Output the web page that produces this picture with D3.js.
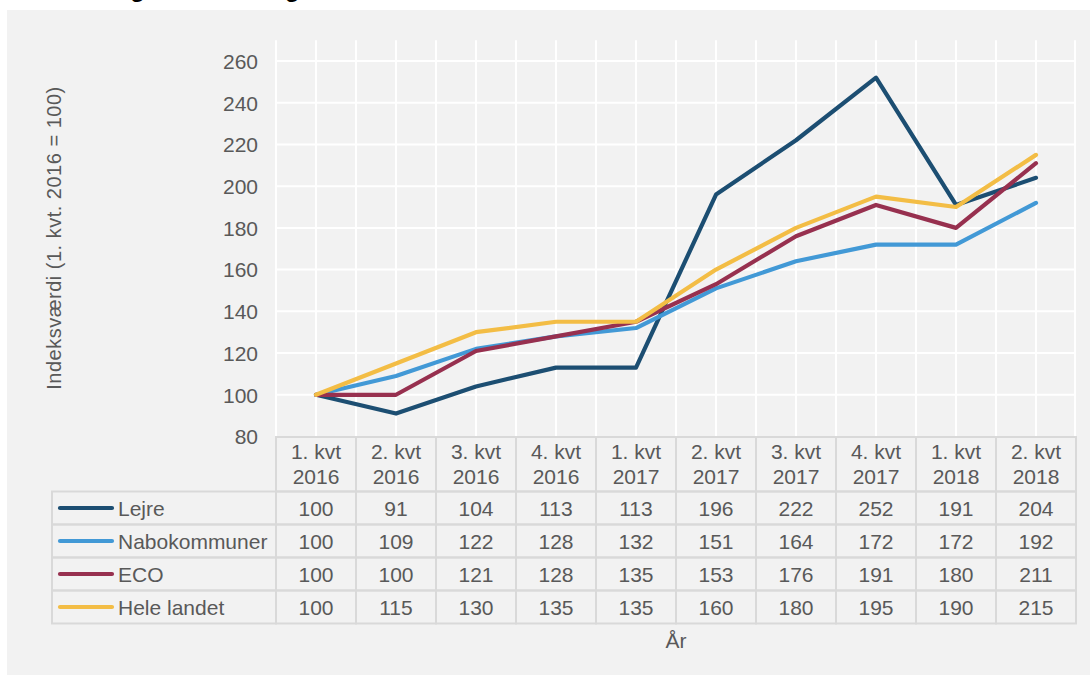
<!DOCTYPE html>
<html>
<head>
<meta charset="utf-8">
<script src="https://cdn.jsdelivr.net/npm/d3@7"></script>
<style>
  html, body { margin: 0; padding: 0; background: #ffffff; }
  svg { display: block; font-family: "Liberation Sans", Arial, sans-serif; }
</style>
</head>
<body>
<svg id="chart" width="1090" height="675"></svg>
<script>
const quarters = ["1. kvt", "2. kvt", "3. kvt", "4. kvt", "1. kvt", "2. kvt", "3. kvt", "4. kvt", "1. kvt", "2. kvt"];
const years = ["2016", "2016", "2016", "2016", "2017", "2017", "2017", "2017", "2018", "2018"];
const seriesNames = ["Lejre", "Nabokommuner", "ECO", "Hele landet"];
const lejre = [100, 91, 104, 113, 113, 196, 222, 252, 191, 204];
const nabokommuner = [100, 109, 122, 128, 132, 151, 164, 172, 172, 192];
const eco = [100, 100, 121, 128, 135, 153, 176, 191, 180, 211];
const heleLandet = [100, 115, 130, 135, 135, 160, 180, 195, 190, 215];
const yTicks = [80, 100, 120, 140, 160, 180, 200, 220, 240, 260];
const yTitle = "Indeksværdi (1. kvt. 2016 = 100)";
const xTitle = "År";
const chartTitle = "Udvikling i kontantsalg for huse";

const colors = ["#1c4e72", "#4299d6", "#97304f", "#f3bd45"];
const seriesValues = [lejre, nabokommuner, eco, heleLandet];
const cats = quarters.map((q, i) => i);

const svg = d3.select("#chart");
const textColor = "#595959";
const borderColor = "#d9d9d9";

// background panel
svg.append("rect").attr("x", 7).attr("y", 10).attr("width", 1083).attr("height", 665).attr("fill", "#f2f2f2");

// title (cut off at the top edge, as in the reference)
svg.append("text").attr("x", 37).attr("y", -3).attr("font-size", 24).attr("font-weight", "bold")
  .attr("fill", "#000").text(chartTitle);

const x = d3.scaleBand().domain(cats).range([276, 1076]).padding(0);
const bw = x.bandwidth();
const y = d3.scaleLinear().domain([80, 260]).range([436.5, 61]);
const plotTop = y(270);

// vertical gridlines (band boundaries and centres)
const vLines = [];
cats.forEach(c => { vLines.push(x(c)); vLines.push(x(c) + bw / 2); });
vLines.push(x.range()[1] - 1);
svg.append("g").selectAll("line").data(vLines).join("line")
  .attr("x1", d => d).attr("x2", d => d).attr("y1", plotTop).attr("y2", y(80))
  .attr("stroke", "#ffffff").attr("stroke-width", 2);

// horizontal gridlines + y axis labels
const yAxis = d3.axisLeft(y).tickValues(yTicks).tickSize(0).tickPadding(0);
const gy = svg.append("g").attr("transform", "translate(258,0)").call(yAxis);
gy.select(".domain").remove();
gy.selectAll("text").attr("font-size", 21).attr("fill", textColor)
  .attr("font-family", "'Liberation Sans', Arial, sans-serif").attr("dy", "0.35em");
svg.append("g").selectAll("line").data(yTicks.slice(1)).join("line")
  .attr("x1", 276).attr("x2", 1075).attr("y1", d => y(d)).attr("y2", d => y(d))
  .attr("stroke", "#ffffff").attr("stroke-width", 2);

// y title
svg.append("text").attr("transform", "translate(61,238) rotate(-90)")
  .attr("text-anchor", "middle").attr("font-size", 20).attr("letter-spacing", 0.5)
  .attr("fill", textColor).text(yTitle);

// lines
const line = d3.line().x((d, i) => x(i) + bw / 2).y(d => y(d));
seriesValues.forEach((vals, si) => {
  svg.append("path").datum(vals).attr("d", line).attr("fill", "none")
    .attr("stroke", colors[si]).attr("stroke-width", 4.2)
    .attr("stroke-linejoin", "round").attr("stroke-linecap", "round");
});

// data table
const headTop = 437, headBot = 491.5, rowH = 33;
const tbl = svg.append("g");
tbl.selectAll("rect.h").data(cats).join("rect")
  .attr("x", d => x(d)).attr("y", headTop).attr("width", bw).attr("height", headBot - headTop)
  .attr("fill", "none").attr("stroke", borderColor).attr("stroke-width", 2);
tbl.selectAll("text.q").data(cats).join("text")
  .attr("x", d => x(d) + bw / 2).attr("y", 459).attr("text-anchor", "middle")
  .attr("font-size", 21).attr("fill", textColor).text(d => quarters[d]);
tbl.selectAll("text.yr").data(cats).join("text")
  .attr("x", d => x(d) + bw / 2).attr("y", 484).attr("text-anchor", "middle")
  .attr("font-size", 21).attr("fill", textColor).text(d => years[d]);

seriesNames.forEach((name, si) => {
  const top = headBot + si * rowH;
  tbl.append("rect").attr("x", 52).attr("y", top).attr("width", 276 - 52).attr("height", rowH)
    .attr("fill", "none").attr("stroke", borderColor).attr("stroke-width", 2);
  tbl.append("line").attr("x1", 60).attr("x2", 112).attr("y1", top + rowH / 2).attr("y2", top + rowH / 2)
    .attr("stroke", colors[si]).attr("stroke-width", 4.2).attr("stroke-linecap", "round");
  tbl.append("text").attr("x", 118).attr("y", top + rowH / 2 + 7.5).attr("font-size", 21)
    .attr("fill", textColor).text(name);
  cats.forEach(c => {
    tbl.append("rect").attr("x", x(c)).attr("y", top).attr("width", bw).attr("height", rowH)
      .attr("fill", "none").attr("stroke", borderColor).attr("stroke-width", 2);
    tbl.append("text").attr("x", x(c) + bw / 2).attr("y", top + rowH / 2 + 7.5)
      .attr("text-anchor", "middle").attr("font-size", 21).attr("fill", textColor)
      .text(seriesValues[si][c]);
  });
});

// x title
svg.append("text").attr("x", 676).attr("y", 648).attr("text-anchor", "middle")
  .attr("font-size", 21).attr("fill", textColor).text(xTitle);
</script>
</body>
</html>
